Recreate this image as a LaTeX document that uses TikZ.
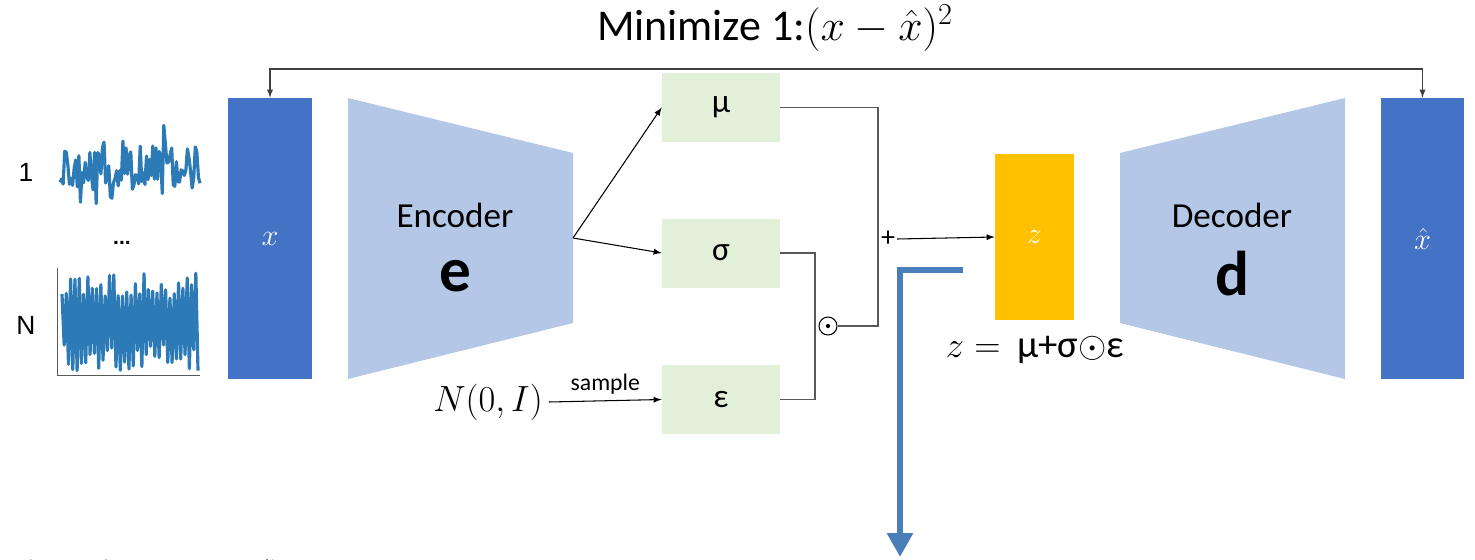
\documentclass[tikz,border=0pt]{standalone}
\usepackage{fontspec}
\setmainfont{Carlito}
\newfontfamily\plotfont{Liberation Sans}
\usepackage{tikz}
\usetikzlibrary{calc}
\usetikzlibrary{arrows.meta}
\tikzset{>=latex}

\definecolor{datablue}{HTML}{4472C4}
\definecolor{netblue}{HTML}{B4C7E7}
\definecolor{paramgreen}{HTML}{E2F0D9}
\definecolor{latentorange}{HTML}{FFC000}
\definecolor{tapblue}{HTML}{4A7EBB}
\definecolor{sigblue}{HTML}{2C7BB6}
\definecolor{wiregray}{HTML}{595959}

\tikzset{
    databox/.style={fill=datablue, text=white, minimum width=1.68cm, minimum height=5.62cm,
        inner sep=0pt, font=\fontsize{17}{20}\selectfont},
    parambox/.style={fill=paramgreen, minimum width=2.36cm, minimum height=1.38cm,
        inner sep=0pt, font=\fontsize{19}{22}\selectfont},
    netname/.style={font=\fontsize{20}{24}\selectfont},
    netletter/.style={font=\fontsize{36}{40}\selectfont\bfseries},
    wire/.style={draw=wiregray, line width=0.6pt},
    arr/.style={->, line width=0.6pt},
    sig/.style={draw=sigblue, line width=1.8pt, line join=round},
    tap/.style={draw=tapblue, line width=0.12cm, -{Triangle[width=0.5cm,length=0.48cm]}},
}

\begin{document}
\begin{tikzpicture}[x=0.02cm, y=-0.02cm]
    \useasboundingbox (0,0) rectangle (1475,559);

    % input series
    \node[font=\plotfont\fontsize{15}{18}\selectfont] (lblone) at (26,172) {1};
    \node[font=\plotfont\fontsize{12}{14}\selectfont\bfseries] (lbldots) at (122,243) {...};
    \node[font=\plotfont\fontsize{15}{18}\selectfont] (lbln) at (26,325) {N};
    \pgfmathsetseed{17}
    \draw[sig] plot[domain=60:200, samples=90] (\x, {166 + 22*rand + 34*rand*rand*rand});
    \draw[sig] plot[domain=0:63, samples=64]
        ({62 + \x*136/63}, {321 + (2*mod(\x,2)-1)*(36 + 14*rand)});
    \draw[wiregray, line width=0.5pt] (57,268) |- (200,375);

    % data, encoder, decoder
    \node[databox] (xin) at (270,238.5) {$x$};
    \node[databox, minimum width=1.66cm] (xout) at (1422.5,238.5) {$\hat{x}$};
    \fill[netblue] (348,98) -- (573,153) -- (573,323) -- (348,379) -- cycle;
    \fill[netblue] (1120,153) -- (1345,98) -- (1345,379) -- (1120,323) -- cycle;
    \coordinate (encout) at (573,238);
    \node[netname] (encname) at (455,215) {Encoder};
    \node[netletter] (encletter) at (455,276) {e};
    \node[netname] (decname) at (1232,215) {Decoder};
    \node[netletter] (decletter) at (1232,274) {d};

    % reconstruction loss
    \node[font=\fontsize{25}{29}\selectfont] (loss) at (775,28) {Minimize 1:$(x-\hat{x})^2$};
    \coordinate (fbtop) at (775,69);
    \draw[arr, <->, draw=black!75] (xin.north) |- (fbtop) -| (xout.north);

    % latent parameters
    \node[parambox] (mu) at (721,107.5) {μ};
    \node[parambox] (sigma) at (721,253) {σ};
    \node[parambox] (eps) at (721,399.5) {ε};
    \node[font=\fontsize{20}{24}\selectfont] (prior) at (488,402) {$N(0,I)$};
    \draw[arr] (encout) -- (mu.west);
    \draw[arr] (encout) -- (sigma.west);
    \draw[arr] (prior.east) -- node[above, font=\fontsize{13.5}{16}\selectfont] (samplelbl) {sample} (eps.west);

    % reparametrisation
    \coordinate (sum) at (878,240);
    \coordinate (prod) at (815,325);
    \node[circle, draw, line width=0.6pt, minimum size=0.36cm, inner sep=0pt] (odot) at (828,326) {};
    \fill (odot.center) circle (1.2pt);
    \draw[wire] (mu.east) -| (sum) |- (odot.east);
    \draw[wire] (sigma.east) -| (prod) |- (eps.east);
    \node[font=\fontsize{16}{19}\selectfont, inner sep=1pt] (plus) at (888,239) {+};
    \node[fill=latentorange, text=white, minimum width=1.58cm, minimum height=3.32cm,
        inner sep=0pt, font=\fontsize{19}{22}\selectfont] (zlat) at (1034.5,237) {$z$};
    \draw[arr] (plus.east) -- (zlat.west);
    \node[font=\fontsize{22}{25}\selectfont] (zformula) at (1035,350) {$z={}$\,μ+σ$\odot$ε};

    % latent output
    \coordinate (tapstart) at (963,270);
    \coordinate (tapend) at (900,557);
    \draw[tap] (tapstart) -| (tapend);

    % caption, cut by the frame
    \begin{scope}
        \clip (0,0) rectangle (1475,559);
        \node[anchor=base west, font=\fontsize{13.5}{16}\selectfont, inner sep=0pt] (caption) at (25,576)
            {feature from VDAE encoding};
    \end{scope}
\end{tikzpicture}
\end{document}
